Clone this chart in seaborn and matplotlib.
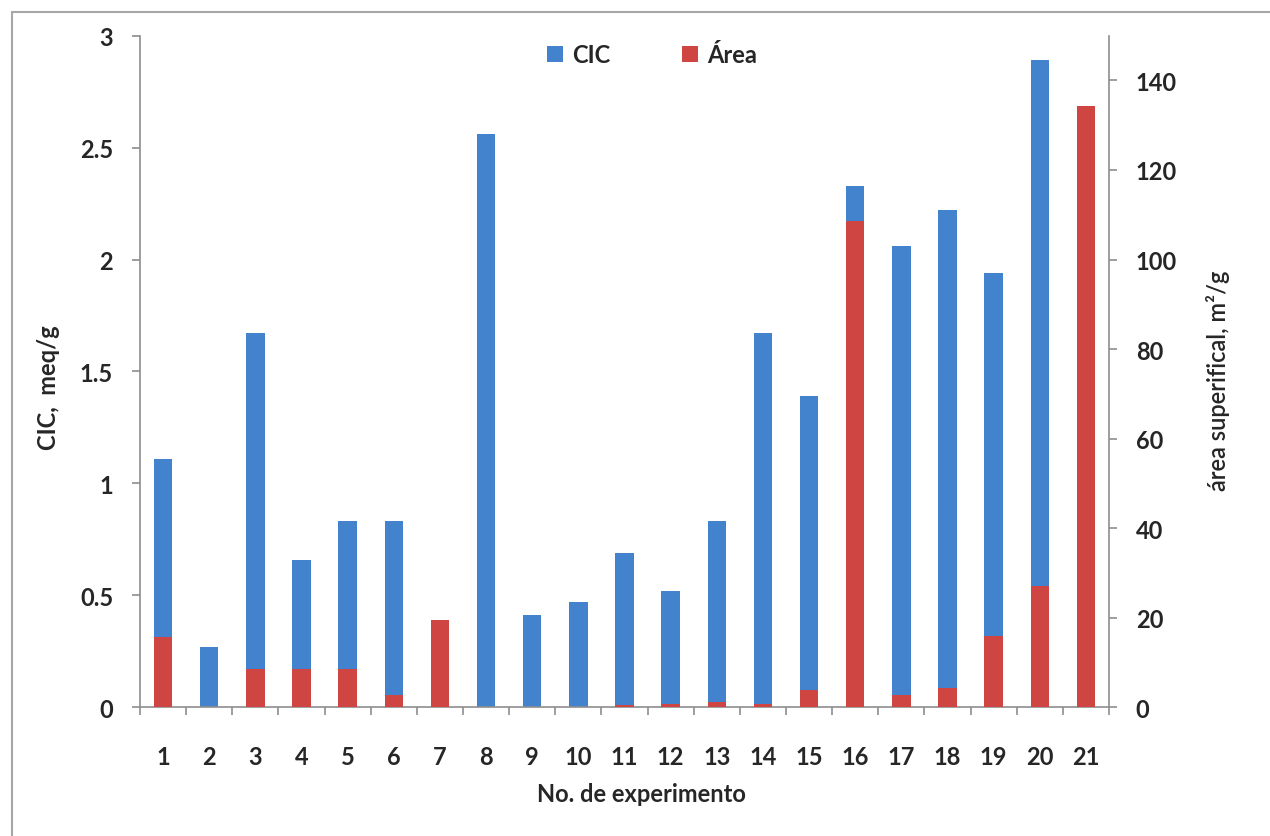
import numpy as np
import pandas as pd
import matplotlib
matplotlib.use("Agg")
import matplotlib.pyplot as plt
from matplotlib.lines import Line2D
from matplotlib.ticker import FixedLocator, FormatStrFormatter
import seaborn as sns

BLUE = "#4382CD"
RED = "#CF4541"
AXIS = "#8E8E8E"

# ── data ──────────────────────────────────────────────────────────────────
experimentos = ["1", "2", "3", "4", "5", "6", "7", "8", "9", "10", "11",
                "12", "13", "14", "15", "16", "17", "18", "19", "20", "21"]
cic = [1.11, 0.27, 1.67, 0.66, 0.83, 0.83, 0.0, 2.56, 0.41, 0.47, 0.69,
       0.52, 0.83, 1.67, 1.39, 2.33, 2.06, 2.22, 1.94, 2.89, 0.0]
area = [15.8, 0.0, 8.6, 8.6, 8.6, 2.7, 19.5, 0.0, 0.0, 0.0, 0.4,
        0.8, 1.2, 0.8, 3.9, 108.5, 2.8, 4.3, 15.9, 27.0, 134.4]
cic_ticks = [0, 0.5, 1, 1.5, 2, 2.5, 3]
area_ticks = [0, 20, 40, 60, 80, 100, 120, 140]

df = pd.DataFrame({"exp": experimentos, "cic": cic, "area": area})

sns.set_theme(style="white")
plt.rcParams["font.family"] = ["Lato", "DejaVu Sans"]
plt.rcParams["font.weight"] = "bold"

FS = 17

fig = plt.figure(figsize=(12.7, 8.37), dpi=100)
ax = fig.add_axes([0.1102, 0.1538, 0.7630, 0.8024])

sns.barplot(data=df, x="exp", y="cic", color=BLUE, saturation=1, width=0.4,
            linewidth=0, label="CIC", ax=ax)
ax2 = ax.twinx()
sns.barplot(data=df, x="exp", y="area", color=RED, saturation=1, width=0.4,
            linewidth=0, label="Área", ax=ax2)

# seaborn adds a legend per axes; one shared legend is drawn below
for a in (ax, ax2):
    if a.get_legend() is not None:
        a.get_legend().remove()

ax.set_xlim(-0.5, 20.5)
ax.set_ylim(0, 3)
ax2.set_ylim(0, 150)
ax.set_yticks(cic_ticks)
ax.yaxis.set_major_formatter(FormatStrFormatter("%g"))
ax2.set_yticks(area_ticks)

# ── spines ─────────────────────────────────────────────────────────────────
for a in (ax, ax2):
    for s in a.spines.values():
        s.set_visible(False)
        s.set_color(AXIS)
        s.set_linewidth(1.2)
ax.spines["left"].set_visible(True)
ax.spines["bottom"].set_visible(True)
ax2.spines["right"].set_visible(True)

# ── ticks ──────────────────────────────────────────────────────────────────
ax.tick_params(axis="y", which="major", left=True, direction="out", length=5.8,
               width=1.2, color=AXIS, pad=13.5, labelsize=FS)
ax.tick_params(axis="x", which="major", bottom=True, length=0, pad=27, labelsize=FS)
ax.xaxis.set_minor_locator(FixedLocator(np.arange(-0.5, 21, 1)))
ax.tick_params(axis="x", which="minor", bottom=True, direction="out", length=5.8,
               width=1.2, color=AXIS)
ax2.tick_params(axis="y", which="major", right=True, direction="out", length=5.8,
                width=1.2, color=AXIS, pad=13.5, labelsize=FS)

# ── labels ─────────────────────────────────────────────────────────────────
ax.set_xlabel("No. de experimento", fontsize=FS, fontweight="bold")
ax.xaxis.set_label_coords(0.518, -0.112)
ax.set_ylabel("CIC,  meq/g", fontsize=FS, fontweight="bold")
ax.yaxis.set_label_coords(-0.082, 0.478)
ax2.set_ylabel("área superifical, m²/g", fontsize=FS, fontweight="semibold")
ax2.yaxis.set_label_coords(1.100, 0.487)

# ── legend ─────────────────────────────────────────────────────────────────
h1, l1 = ax.get_legend_handles_labels()
h2, l2 = ax2.get_legend_handles_labels()
fig.legend(h1 + h2, l1 + l2, loc="center", bbox_to_anchor=(0.5134, 0.9333),
           ncol=2, frameon=False, handlelength=0.7, handleheight=0.7,
           handletextpad=0.4, columnspacing=3.0, borderpad=0,
           prop={"size": FS, "weight": "bold"})

# outer chart frame (only left and top edges visible in the reference)
fig.add_artist(Line2D([12 / 1270, 12 / 1270], [0, 1 - 13 / 837],
                      color="#A6A6A6", lw=1.5, transform=fig.transFigure))
fig.add_artist(Line2D([12 / 1270, 1], [1 - 13 / 837, 1 - 13 / 837],
                      color="#A6A6A6", lw=1.5, transform=fig.transFigure))

fig.savefig("out.png", dpi=100)
